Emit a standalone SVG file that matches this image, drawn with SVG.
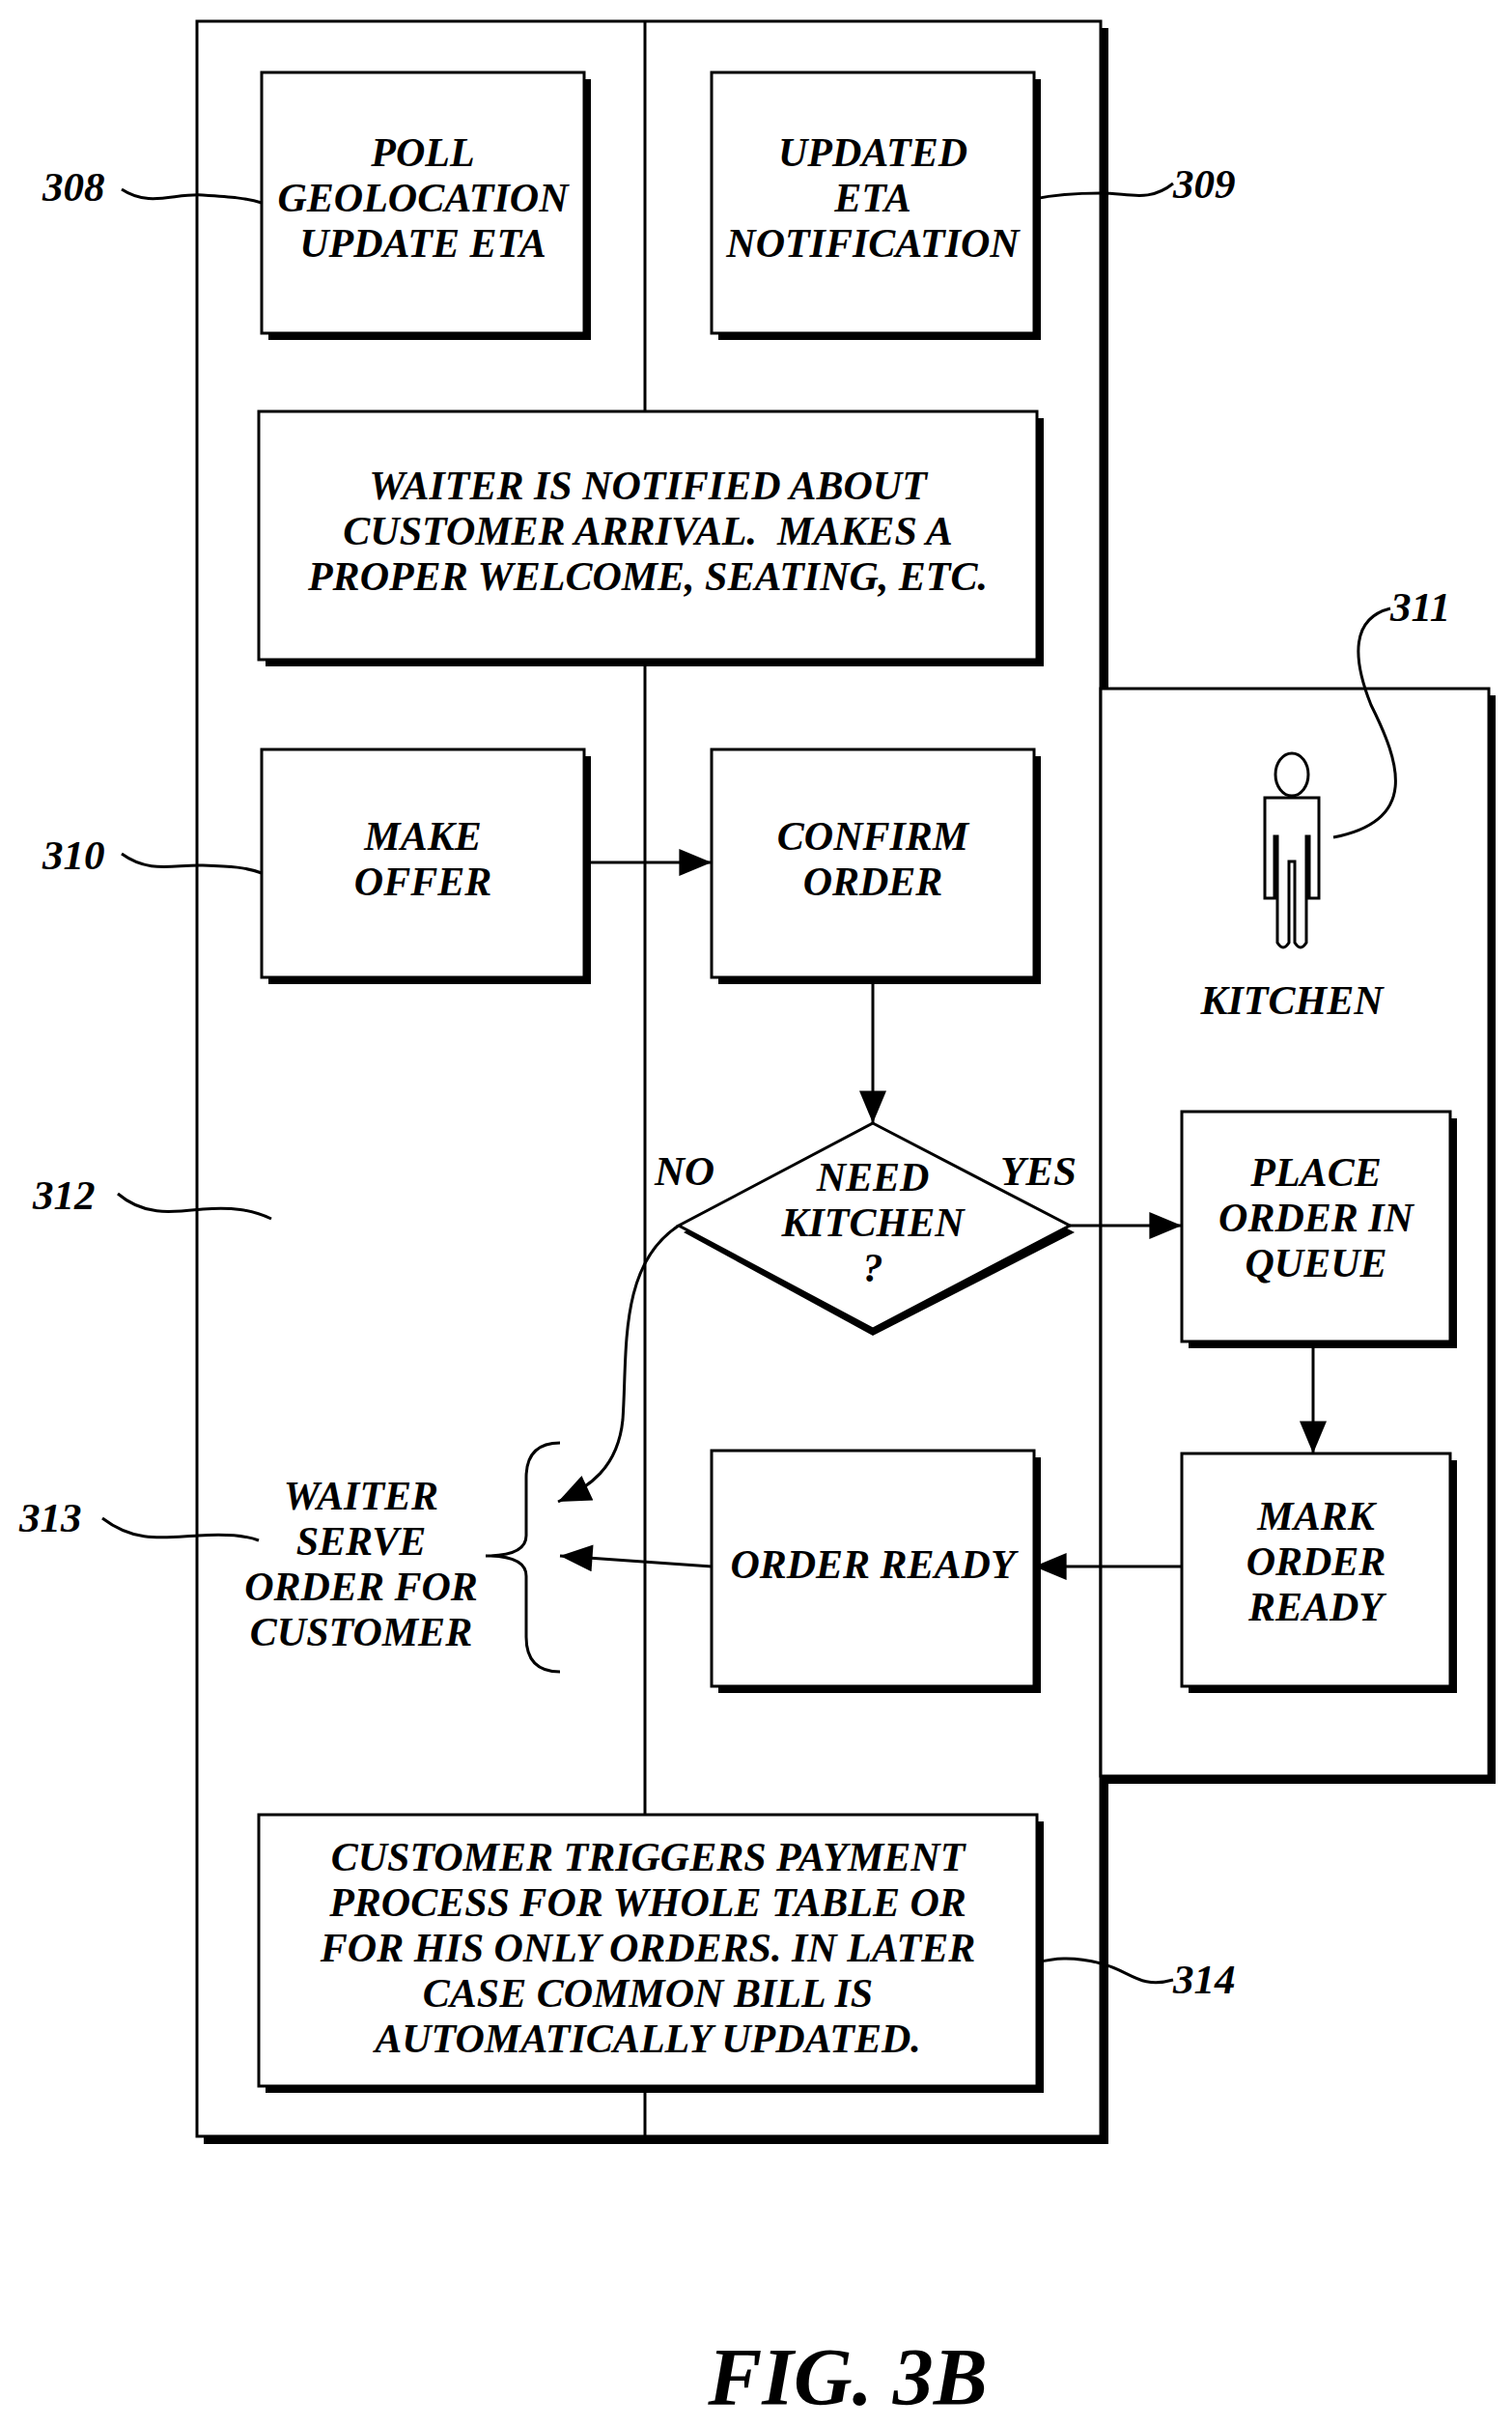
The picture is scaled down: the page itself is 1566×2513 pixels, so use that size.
<svg xmlns="http://www.w3.org/2000/svg" width="1566" height="2513" viewBox="0 0 1566 2513">
<style>
.b{fill:#fff;stroke:#000;stroke-width:3}
.s{fill:#000}
.l{fill:none;stroke:#000;stroke-width:3}
.t{font-family:"Liberation Serif",serif;font-weight:bold;font-style:italic;font-size:42px;text-anchor:middle}
.n{font-family:"Liberation Serif",serif;font-weight:bold;font-style:italic;font-size:43px}
</style>
<defs>
<marker id="A" viewBox="0 0 12 10" markerWidth="40" markerHeight="28" refX="12" refY="5" orient="auto" markerUnits="userSpaceOnUse"><path d="M0,0L12,5L0,10z"/></marker></defs>
<g id="lanes">
<rect class="s" x="211" y="29" width="937" height="2191"/>
<rect class="b" x="204" y="22" width="936" height="2190"/>
<rect class="s" x="1147" y="720" width="402" height="1127"/>
<rect class="b" x="1140" y="713" width="402" height="1126"/>
<path class="l" d="M668,22V426M668,683V1879M668,2160V2212"/>
</g>
<g id="n308"><rect class="s" x="278" y="82" width="334" height="270"/><rect class="b" x="271" y="75" width="334" height="270"/>
<text class="t" x="438" y="172">POLL</text><text class="t" x="438" y="219">GEOLOCATION</text><text class="t" x="438" y="266">UPDATE ETA</text></g>
<g id="n309"><rect class="s" x="744" y="82" width="334" height="270"/><rect class="b" x="737" y="75" width="334" height="270"/>
<text class="t" x="904" y="172">UPDATED</text><text class="t" x="904" y="219">ETA</text><text class="t" x="904" y="266">NOTIFICATION</text></g>
<g id="waiter"><rect class="s" x="275" y="433" width="806" height="257"/><rect class="b" x="268" y="426" width="806" height="257"/>
<text class="t" x="671" y="517">WAITER IS NOTIFIED ABOUT</text><text class="t" x="671" y="564" xml:space="preserve" style="white-space:pre">CUSTOMER ARRIVAL.  MAKES A</text><text class="t" x="671" y="611">PROPER WELCOME, SEATING, ETC.</text></g>
<g id="n310"><rect class="s" x="278" y="783" width="334" height="236"/><rect class="b" x="271" y="776" width="334" height="236"/>
<text class="t" x="438" y="880">MAKE</text><text class="t" x="438" y="927">OFFER</text></g>
<g id="confirm"><rect class="s" x="744" y="783" width="334" height="236"/><rect class="b" x="737" y="776" width="334" height="236"/>
<text class="t" x="904" y="880">CONFIRM</text><text class="t" x="904" y="927">ORDER</text></g>
<g id="decision"><path d="M904,1170L1113,1276L904,1383L708,1276z" fill="#000"/><path class="b" d="M904,1163L1108,1269L904,1376L703,1269z"/>
<text class="t" x="904" y="1233">NEED</text><text class="t" x="904" y="1280">KITCHEN</text><text class="t" x="904" y="1327">?</text>
<text class="n" x="678" y="1227">NO</text><text class="n" x="1036" y="1227">YES</text></g>
<g id="kitchen">
<ellipse class="l" cx="1338" cy="802" rx="17" ry="22"/>
<path class="l" d="M1310,826H1366V930H1356V866H1353V976Q1347,986 1341,976V892H1335V976Q1329,986 1323,976V866H1320V930H1310z"/>
<text class="t" x="1338" y="1050">KITCHEN</text></g>
<g id="place"><rect class="s" x="1231" y="1158" width="278" height="238"/><rect class="b" x="1224" y="1151" width="278" height="238"/>
<text class="t" x="1363" y="1228">PLACE</text><text class="t" x="1363" y="1275">ORDER IN</text><text class="t" x="1363" y="1322">QUEUE</text></g>
<g id="mark"><rect class="s" x="1231" y="1512" width="278" height="241"/><rect class="b" x="1224" y="1505" width="278" height="241"/>
<text class="t" x="1363" y="1584">MARK</text><text class="t" x="1363" y="1631">ORDER</text><text class="t" x="1363" y="1678">READY</text></g>
<g id="ready"><rect class="s" x="744" y="1509" width="334" height="244"/><rect class="b" x="737" y="1502" width="334" height="244"/>
<text class="t" x="904" y="1634">ORDER READY</text></g>
<g id="serve"><path class="l" d="M580,1494Q545,1494 545,1530V1590Q545,1611 503,1611Q545,1611 545,1632V1695Q545,1731 580,1731"/>
<text class="t" x="374" y="1563">WAITER</text><text class="t" x="374" y="1610">SERVE</text><text class="t" x="374" y="1657">ORDER FOR</text><text class="t" x="374" y="1704">CUSTOMER</text></g>
<g id="payment"><rect class="s" x="275" y="1886" width="806" height="281"/><rect class="b" x="268" y="1879" width="806" height="281"/>
<text class="t" x="671" y="1937">CUSTOMER TRIGGERS PAYMENT</text><text class="t" x="671" y="1984">PROCESS FOR WHOLE TABLE OR</text><text class="t" x="671" y="2031">FOR HIS ONLY ORDERS. IN LATER</text><text class="t" x="671" y="2078">CASE COMMON BILL IS</text><text class="t" x="671" y="2125">AUTOMATICALLY UPDATED.</text></g>
<g id="connectors">
<path class="l" d="M605,893H737" marker-end="url(#A)"/>
<path class="l" d="M904,1012V1163" marker-end="url(#A)"/>
<path class="l" d="M1108,1269H1224" marker-end="url(#A)"/>
<path class="l" d="M1360,1389V1505" marker-end="url(#A)"/>
<path class="l" d="M1224,1622H1071" marker-end="url(#A)"/>
<path class="l" d="M737,1622L580,1611" marker-end="url(#A)"/>
<path class="l" d="M703,1269C640,1310 650,1400 645,1470C640,1520 610,1540 578,1555" marker-end="url(#A)"/>
<path class="l" d="M126,196C155,215 180,200 210,202C240,204 255,205 271,210"/>
<path class="l" d="M1215,190C1190,210 1170,200 1140,200C1110,200 1090,202 1071,206"/>
<path class="l" d="M126,884C155,905 180,895 210,896C240,897 255,898 271,904"/>
<path class="l" d="M1440,630C1400,640 1400,680 1420,730C1450,790 1470,850 1381,867"/>
<path class="l" d="M122,1236C150,1260 180,1255 210,1252C240,1250 260,1252 281,1262"/>
<path class="l" d="M106,1572C140,1598 170,1592 205,1590C235,1588 255,1590 268,1595"/>
<path class="l" d="M1215,2050C1180,2060 1170,2040 1140,2033C1110,2025 1090,2028 1074,2032"/>
</g>
<g id="labels">
<text class="n" x="44" y="208">308</text><text class="n" x="1215" y="205">309</text>
<text class="n" x="44" y="900">310</text><text class="n" x="1440" y="643">311</text>
<text class="n" x="34" y="1252">312</text><text class="n" x="20" y="1586">313</text>
<text class="n" x="1215" y="2064">314</text>
<text class="t" x="878" y="2490" style="font-size:84px">FIG. 3B</text>
</g>
</svg>
